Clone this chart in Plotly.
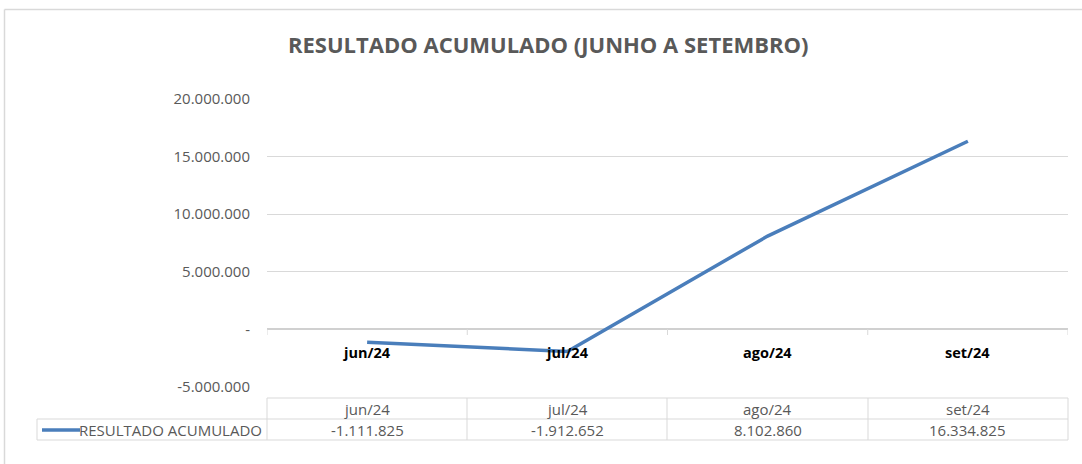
import plotly.graph_objects as go

# ---- data ----
categories = ["jun/24", "jul/24", "ago/24", "set/24"]
resultado_acumulado = [-1111825, -1912652, 8102860, 16334825]
series_name = "RESULTADO ACUMULADO"
title_text = "RESULTADO ACUMULADO (JUNHO A SETEMBRO)"
y_tickvals = [-5000000, 0, 5000000, 10000000, 15000000, 20000000]
y_ticktext = ["-5.000.000", "-", "5.000.000", "10.000.000", "15.000.000", "20.000.000"]

W, H = 1082, 464
X0, X1 = 267, 1068   # plot area left/right in pixels
YT, YB = 99, 387     # plot area top/bottom in pixels

def px(x):
    return (x - X0) / (X1 - X0)

def py(y):
    return (YB - y) / (YB - YT)

def fmt(v):
    return f"{v:,}".replace(",", ".")

LINE = "#4A7EBB"
GRID = "#D9D9D9"
TXT = "#595959"
FONT = "Open Sans, Liberation Sans, Arial, sans-serif"
TFONT = "Open Sans, Liberation Sans, sans-serif"
FS = 15

idx = list(range(len(categories)))

fig = go.Figure()
fig.add_trace(go.Scatter(
    x=idx, y=resultado_acumulado, mode="lines", name=series_name,
    line=dict(color=LINE, width=3.5), showlegend=False, hoverinfo="skip",
))

shapes = []
# outer chart border (only left and top visible)
shapes.append(dict(type="line", xref="paper", yref="paper",
                   x0=px(4.5), x1=px(W), y0=py(9.5), y1=py(9.5),
                   line=dict(color=GRID, width=1.5)))
shapes.append(dict(type="line", xref="paper", yref="paper",
                   x0=px(4.5), x1=px(4.5), y0=py(9.5), y1=py(H),
                   line=dict(color=GRID, width=1.5)))
# category boundary ticks on the zero line
for b in [i - 0.5 for i in range(len(categories) + 1)]:
    shapes.append(dict(type="line", xref="x", yref="paper", x0=b, x1=b,
                       y0=py(329), y1=py(335), line=dict(color=GRID, width=1)))
# data table borders
tcol = [X0, 467, 667, 868, X1]
shapes.append(dict(type="line", xref="paper", yref="paper", x0=px(X0), x1=px(X1),
                   y0=py(398), y1=py(398), line=dict(color=GRID, width=1)))
for yy in (419, 440):
    shapes.append(dict(type="line", xref="paper", yref="paper", x0=px(37), x1=px(X1),
                       y0=py(yy), y1=py(yy), line=dict(color=GRID, width=1)))
for xx in tcol:
    shapes.append(dict(type="line", xref="paper", yref="paper", x0=px(xx), x1=px(xx),
                       y0=py(398), y1=py(440), line=dict(color=GRID, width=1)))
shapes.append(dict(type="line", xref="paper", yref="paper", x0=px(37), x1=px(37),
                   y0=py(419), y1=py(440), line=dict(color=GRID, width=1)))
# legend key line
shapes.append(dict(type="line", xref="paper", yref="paper", x0=px(42), x1=px(80),
                   y0=py(430), y1=py(430), line=dict(color=LINE, width=3.5)))

annotations = []
annotations.append(dict(text=f"<b>{title_text}</b>", xref="paper", yref="paper",
                        x=px(548), y=py(44), showarrow=False, xanchor="center", yanchor="middle",
                        font=dict(family=TFONT, size=22, color=TXT)))
for i, c in enumerate(categories):
    annotations.append(dict(text=f"<b>{c}</b>", xref="x", yref="paper", x=i, y=py(352),
                            showarrow=False, xanchor="center", yanchor="middle",
                            font=dict(family=FONT, size=14.5, color="#000000")))
    annotations.append(dict(text=c, xref="x", yref="paper", x=i, y=py(408.5),
                            showarrow=False, xanchor="center", yanchor="middle",
                            font=dict(family=FONT, size=FS, color=TXT)))
    annotations.append(dict(text=fmt(resultado_acumulado[i]), xref="x", yref="paper", x=i, y=py(430),
                            showarrow=False, xanchor="center", yanchor="middle",
                            font=dict(family=FONT, size=FS, color=TXT)))
annotations.append(dict(text=series_name, xref="paper", yref="paper", x=px(264), y=py(430),
                        showarrow=False, xanchor="right", yanchor="middle",
                        font=dict(family=FONT, size=FS, color=TXT)))

fig.update_layout(
    width=W, height=H, autosize=False,
    margin=dict(l=X0, r=W - X1, t=YT, b=H - YB, pad=0),
    paper_bgcolor="white", plot_bgcolor="white",
    shapes=shapes, annotations=annotations,
    xaxis=dict(range=[-0.5, len(categories) - 0.5], showgrid=False, zeroline=False,
               showticklabels=False, ticks="", showline=False, fixedrange=True),
    yaxis=dict(range=[y_tickvals[0], y_tickvals[-1]], tickvals=y_tickvals, ticktext=y_ticktext,
               showgrid=True, gridcolor=GRID, gridwidth=1, zeroline=True, zerolinecolor="#D0D0D0",
               zerolinewidth=1.5, showline=False, ticks="", ticklabelstandoff=16,
               tickfont=dict(family=FONT, size=FS, color=TXT), fixedrange=True),
)

fig.write_html("out.html", config={"displayModeBar": False},
               post_script="document.body.style.margin='0';document.body.style.overflow='hidden';")
